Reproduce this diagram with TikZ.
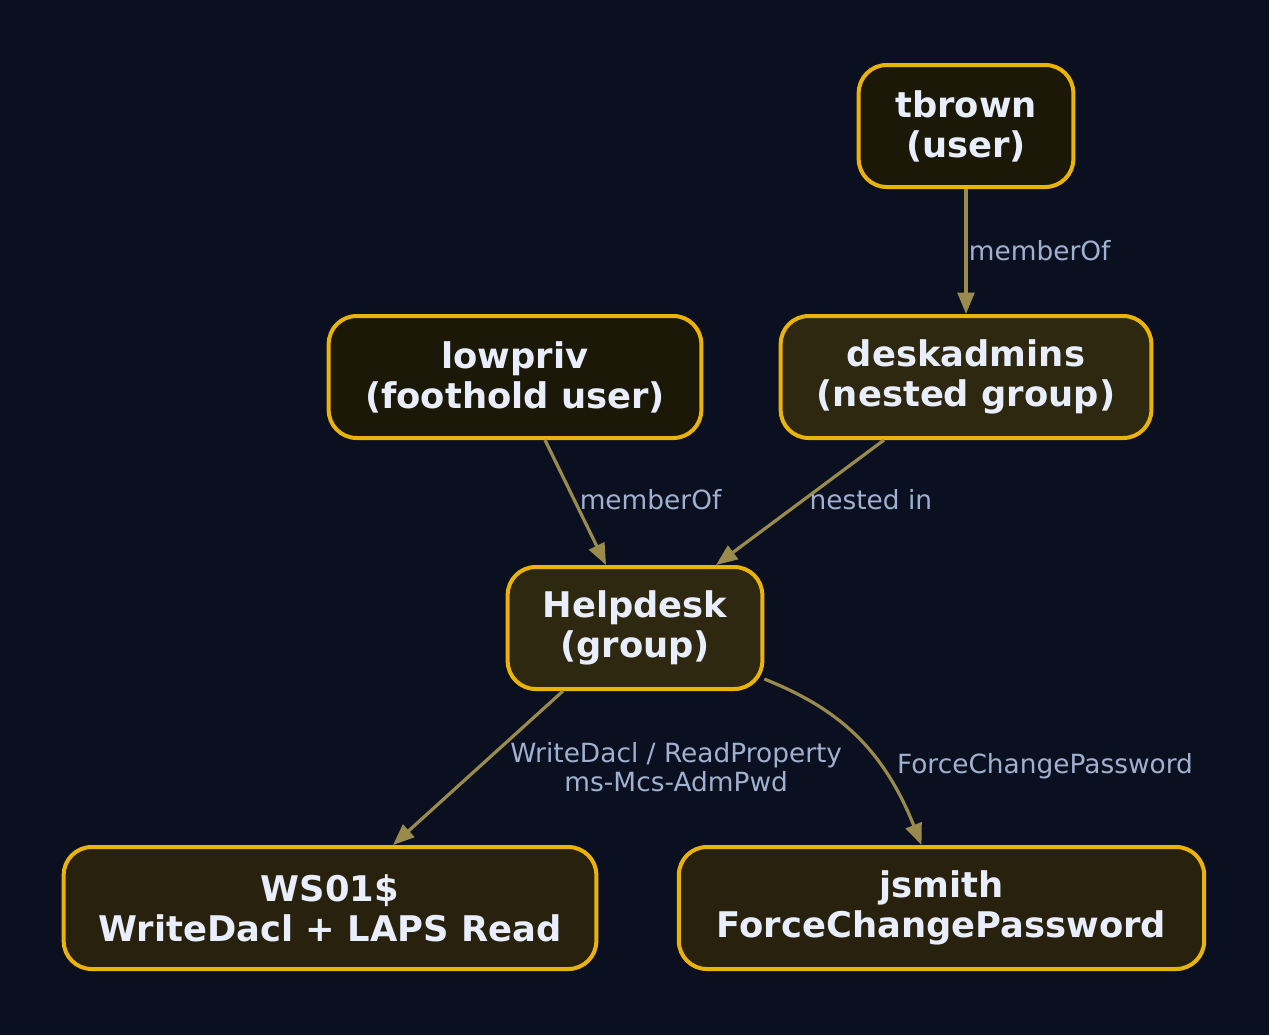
\documentclass[tikz,border=0pt]{standalone}
\usepackage{fontspec}
\setmainfont{DejaVu Sans}
\usetikzlibrary{arrows.meta, positioning, calc}

\definecolor{bgcol}{RGB}{10,16,32}
\definecolor{nodeborder}{RGB}{234,179,8}
\definecolor{nodetext}{RGB}{232,238,252}
\definecolor{lblcol}{RGB}{160,176,208}
\definecolor{edgecol}{RGB}{154,139,76}
\definecolor{fillA}{RGB}{28,24,8}
\definecolor{fillB}{RGB}{46,40,16}
\definecolor{fillC}{RGB}{40,33,14}

\begin{document}
\begin{tikzpicture}[x=0.75pt, y=-0.75pt,
  >={Triangle[length=16pt, width=12.5pt]},
  acct/.style={draw=nodeborder, line width=3pt, rounded corners=21pt,
    minimum height=91.5pt, text=nodetext, align=center,
    font=\bfseries\fontsize{26.5}{30}\selectfont},
  rel/.style={->, draw=edgecol, line width=2.4pt},
  lbl/.style={text=lblcol, align=center, inner sep=2pt,
    font=\fontsize{19.8}{21.75}\selectfont}]
  \fill[bgcol] (0,0) rectangle (1269,1035);

  \node[acct, fill=fillA, minimum width=161pt] (tbrown) at (966,126) {tbrown\\(user)};
  \node[acct, fill=fillA, minimum width=279.5pt] (lowpriv) at (515,377) {lowpriv\\(foothold user)};
  \node[acct, fill=fillB, minimum width=278pt] (desk) at (966,377) {deskadmins\\(nested group)};
  \node[acct, fill=fillB, minimum width=191pt] (help) at (635,628) {Helpdesk\\(group)};
  \node[acct, fill=fillC, minimum width=399.5pt] (ws) at (330,908) {WS01\$\\WriteDacl + LAPS Read};
  \node[acct, fill=fillC, minimum width=394pt] (jsmith) at (941.5,908) {jsmith\\ForceChangePassword};

  \draw[rel] (tbrown.south) -- (desk.north) node[lbl, midway, right, inner sep=1pt, yshift=1pt] {memberOf};
  \draw[rel] ($(lowpriv.south)+(30,0)$) -- ($(help.north)+(-29,0)$) node[lbl, midway, right, yshift=2pt] {memberOf};
  \draw[rel] ($(desk.south)+(-82,0)$) -- ($(help.north)+(81,0)$) node[lbl, midway, right, xshift=4pt, yshift=2pt] {nested in};
  \draw[rel] ($(help.south)+(-72,0)$) -- ($(ws.north)+(63,0)$)
    node[lbl, midway, right, xshift=21pt, yshift=1pt] {WriteDacl / ReadProperty\\ms-Mcs-AdmPwd};
  \draw[rel] ($(help.south east)+(0,-12)$) .. controls +(67,27) and +(-41,-103) .. ($(jsmith.north)+(-20,0)$)
    node[lbl, pos=0.7, right, xshift=8pt, yshift=2pt] {ForceChangePassword};
\end{tikzpicture}
\end{document}
